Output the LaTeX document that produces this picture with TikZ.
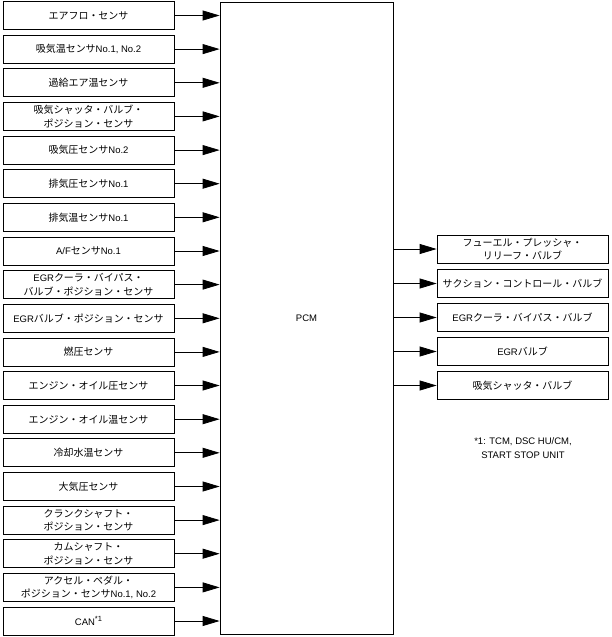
\documentclass[tikz,border=0pt]{standalone}
\usepackage{fontspec}
\setmainfont{Liberation Sans}
\newfontfamily\jpfont[Scale=1.05]{Noto Sans CJK JP}
\usetikzlibrary{arrows.meta}

\begin{document}
\begin{tikzpicture}[x=1pt, y=-1pt,
    box/.style={draw, align=center, minimum height=28pt, minimum width=171pt, inner sep=1pt, font=\fontsize{9.5}{13.5}\selectfont, line width=0.8pt},
    arrow/.style={-{Triangle[length=17pt,width=10pt]}, line width=0.8pt}
  ]
    \useasboundingbox (0,0) rectangle (611,637);

    \node[draw, line width=0.8pt, minimum width=173pt, minimum height=632pt, font=\fontsize{9.5}{13.5}\selectfont] (pcm) at (306.5,318) {PCM};

    \node[box] (maf) at (88.5,15.5) {\jpfont エアフロ・センサ};
    \node[box] (iat) at (88.5,49.1) {{\jpfont 吸気温センサ}No.1, No.2};
    \node[box] (boost) at (88.5,82.8) {\jpfont 過給エア温センサ};
    \node[box] (shutpos) at (88.5,116.4) {{\jpfont 吸気シャッタ・バルブ・}\\{\jpfont ポジション・センサ}};
    \node[box] (map) at (88.5,150.1) {{\jpfont 吸気圧センサ}No.2};
    \node[box] (exhp) at (88.5,183.7) {{\jpfont 排気圧センサ}No.1};
    \node[box] (exht) at (88.5,217.3) {{\jpfont 排気温センサ}No.1};
    \node[box] (af) at (88.5,251.0) {A/F{\jpfont センサ}No.1};
    \node[box] (coolbypos) at (88.5,284.6) {EGR{\jpfont クーラ・バイパス・}\\{\jpfont バルブ・ポジション・センサ}};
    \node[box] (egrpos) at (88.5,318.3) {EGR{\jpfont バルブ・ポジション・センサ}};
    \node[box] (fuelp) at (88.5,351.9) {\jpfont 燃圧センサ};
    \node[box] (oilp) at (88.5,385.5) {\jpfont エンジン・オイル圧センサ};
    \node[box] (oilt) at (88.5,419.2) {\jpfont エンジン・オイル温センサ};
    \node[box] (ect) at (88.5,452.8) {\jpfont 冷却水温センサ};
    \node[box] (baro) at (88.5,486.5) {\jpfont 大気圧センサ};
    \node[box] (ckp) at (88.5,520.1) {{\jpfont クランクシャフト・}\\{\jpfont ポジション・センサ}};
    \node[box] (cmp) at (88.5,553.7) {{\jpfont カムシャフト・}\\{\jpfont ポジション・センサ}};
    \node[box] (app) at (88.5,587.4) {{\jpfont アクセル・ペダル・}\\{\jpfont ポジション・センサ}No.1, No.2};
    \node[box] (can) at (88.5,621.0) {CAN\raisebox{0.7ex}{\fontsize{7.5}{8}\selectfont *1}};

    \node[box] (relief) at (522.5,249) {{\jpfont フューエル・プレッシャ・}\\{\jpfont リリーフ・バルブ}};
    \node[box] (suction) at (522.5,283.5) {\jpfont サクション・コントロール・バルブ};
    \node[box] (coolby) at (522.5,317.5) {EGR{\jpfont クーラ・バイパス・バルブ}};
    \node[box] (egr) at (522.5,351.5) {EGR{\jpfont バルブ}};
    \node[box] (shutter) at (522.5,385.5) {\jpfont 吸気シャッタ・バルブ};

    \node[align=center, font=\fontsize{9.5}{13.5}\selectfont] (note) at (523,448) {*1: TCM, DSC HU/CM,\\START STOP UNIT};

    \draw[arrow] (maf) -- (maf -| pcm.west);
    \draw[arrow] (iat) -- (iat -| pcm.west);
    \draw[arrow] (boost) -- (boost -| pcm.west);
    \draw[arrow] (shutpos) -- (shutpos -| pcm.west);
    \draw[arrow] (map) -- (map -| pcm.west);
    \draw[arrow] (exhp) -- (exhp -| pcm.west);
    \draw[arrow] (exht) -- (exht -| pcm.west);
    \draw[arrow] (af) -- (af -| pcm.west);
    \draw[arrow] (coolbypos) -- (coolbypos -| pcm.west);
    \draw[arrow] (egrpos) -- (egrpos -| pcm.west);
    \draw[arrow] (fuelp) -- (fuelp -| pcm.west);
    \draw[arrow] (oilp) -- (oilp -| pcm.west);
    \draw[arrow] (oilt) -- (oilt -| pcm.west);
    \draw[arrow] (ect) -- (ect -| pcm.west);
    \draw[arrow] (baro) -- (baro -| pcm.west);
    \draw[arrow] (ckp) -- (ckp -| pcm.west);
    \draw[arrow] (cmp) -- (cmp -| pcm.west);
    \draw[arrow] (app) -- (app -| pcm.west);
    \draw[arrow] (can) -- (can -| pcm.west);

    \draw[arrow] (relief -| pcm.east) -- (relief);
    \draw[arrow] (suction -| pcm.east) -- (suction);
    \draw[arrow] (coolby -| pcm.east) -- (coolby);
    \draw[arrow] (egr -| pcm.east) -- (egr);
    \draw[arrow] (shutter -| pcm.east) -- (shutter);
  \end{tikzpicture}
\end{document}
